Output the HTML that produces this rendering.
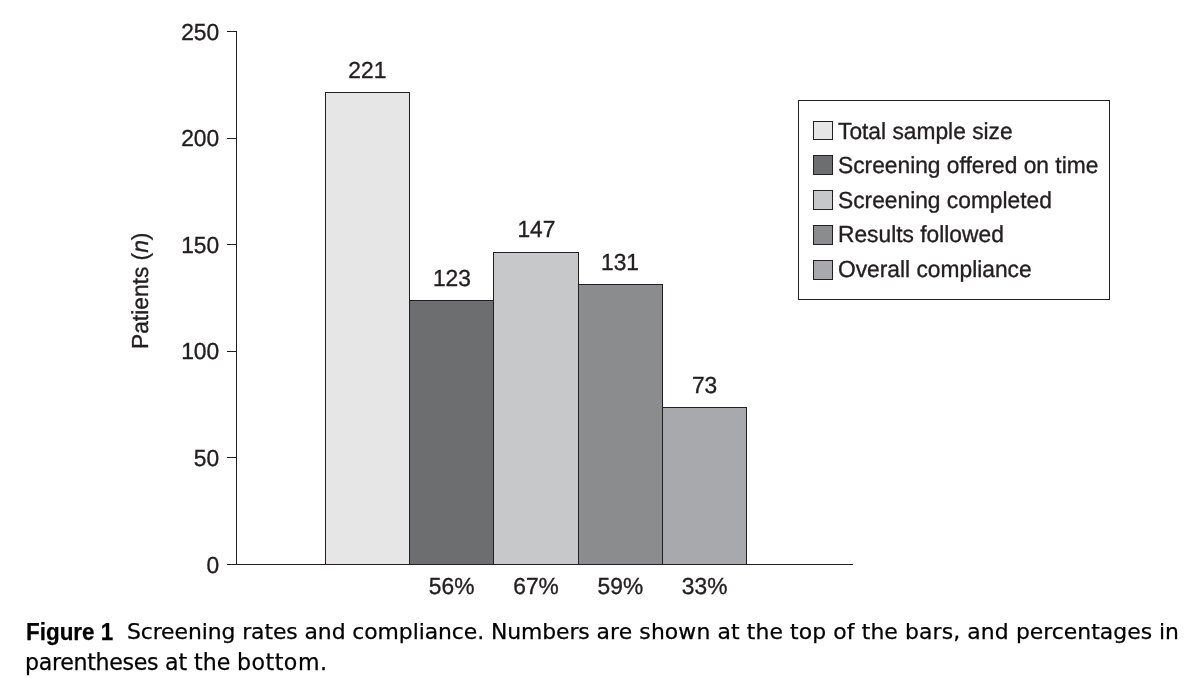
<!DOCTYPE html>
<html lang="en">
<head>
<meta charset="utf-8">
<title>Figure 1 Screening rates and compliance</title>
<style>
  html, body { margin: 0; padding: 0; background: #ffffff; }
  body { width: 1187px; height: 678px; overflow: hidden; position: relative; }
  svg { position: absolute; left: 0; top: 0; display: block; }
  svg text { text-rendering: geometricPrecision; font-family: "Liberation Sans", Arial, Helvetica, sans-serif; font-size: 23.2px; fill: #231f20; stroke: #231f20; stroke-width: 0.35; }
  .ax { stroke: #231f20; stroke-width: 1; fill: none; shape-rendering: crispEdges; }
  .bar { stroke: #231f20; stroke-width: 1; shape-rendering: crispEdges; }
  .cap { position: absolute; margin: 0; white-space: nowrap; color: #000000;
    font-family: "DejaVu Sans", "Liberation Sans", sans-serif; font-size: 21.9px; line-height: 30px; height: 30px; -webkit-text-stroke: 0.25px #000000; }
  #c0 { left: 26.2px; top: 616.6px; font-family: "Liberation Sans", "DejaVu Sans", sans-serif; font-weight: bold; font-size: 23.5px;
    transform-origin: 0 0; transform: scaleX(0.955); }
  #c1 { left: 126.9px; top: 617.3px; letter-spacing: 0.01px; }
  #c2 { left: 25px; top: 646.8px; font-size: 22.1px; letter-spacing: 0.04px; }
</style>
</head>
<body>
<svg width="1187" height="678" viewBox="0 0 1187 678">
  <rect x="0" y="0" width="1187" height="678" fill="#ffffff"/>

  <!-- bars -->
  <rect class="bar" x="325.5" y="92.5" width="84" height="472.0" fill="#e6e6e6"/>
  <rect class="bar" x="409.5" y="300.5" width="84" height="264.0" fill="#6d6e70"/>
  <rect class="bar" x="493.5" y="252.5" width="85" height="312.0" fill="#c7c8ca"/>
  <rect class="bar" x="578.5" y="284.5" width="84" height="280.0" fill="#8a8c8e"/>
  <rect class="bar" x="662.5" y="407.5" width="84" height="157.0" fill="#a7a9ac"/>

  <!-- axes -->
  <path class="ax" d="M236.5 31 V565"/>
  <path class="ax" d="M227 564.5 H853"/>
  <path class="ax" d="M227 31.5 H237 M227 138.5 H237 M227 244.5 H237 M227 351.5 H237 M227 457.5 H237"/>

  <!-- y tick labels -->
  <text transform="translate(219.2 39.6) scale(0.982 1)" text-anchor="end">250</text>
  <text transform="translate(219.2 146.2) scale(0.982 1)" text-anchor="end">200</text>
  <text transform="translate(219.2 252.8) scale(0.982 1)" text-anchor="end">150</text>
  <text transform="translate(219.2 359.4) scale(0.982 1)" text-anchor="end">100</text>
  <text transform="translate(219.2 466.0) scale(0.982 1)" text-anchor="end">50</text>
  <text transform="translate(219.2 572.6) scale(0.982 1)" text-anchor="end">0</text>

  <!-- y axis title -->
  <text transform="translate(148 349) rotate(-90) scale(0.982 1)">Patients (<tspan font-style="italic">n</tspan>)</text>

  <!-- bar value labels -->
  <text transform="translate(367.3 78.0) scale(0.982 1)" text-anchor="middle">221</text>
  <text transform="translate(451.9 285.6) scale(0.982 1)" text-anchor="middle">123</text>
  <text transform="translate(536.4 237.4) scale(0.982 1)" text-anchor="middle">147</text>
  <text transform="translate(620 269.6) scale(0.982 1)" text-anchor="middle">131</text>
  <text transform="translate(704.6 393.0) scale(0.982 1)" text-anchor="middle">73</text>
  <text transform="translate(451.6 594.3) scale(0.982 1)" text-anchor="middle">56%</text>
  <text transform="translate(536 594.3) scale(0.982 1)" text-anchor="middle">67%</text>
  <text transform="translate(620.4 594.3) scale(0.982 1)" text-anchor="middle">59%</text>
  <text transform="translate(704.6 594.3) scale(0.982 1)" text-anchor="middle">33%</text>

  <!-- legend -->
  <rect class="ax" x="798.5" y="100.5" width="311" height="199"/>
  <rect class="bar" x="813.5" y="121.5" width="19" height="18" fill="#e6e6e6"/>
  <rect class="bar" x="813.5" y="155.5" width="19" height="19" fill="#6d6e70"/>
  <rect class="bar" x="813.5" y="190.5" width="19" height="19" fill="#c7c8ca"/>
  <rect class="bar" x="813.5" y="225.5" width="19" height="19" fill="#8a8c8e"/>
  <rect class="bar" x="813.5" y="260.5" width="19" height="19" fill="#a7a9ac"/>
  <text transform="translate(838 138.5) scale(0.982 1)">Total sample size</text>
  <text transform="translate(838 173.1) scale(0.982 1)">Screening offered on time</text>
  <text transform="translate(838 207.7) scale(0.982 1)">Screening completed</text>
  <text transform="translate(838 242.4) scale(0.982 1)">Results followed</text>
  <text transform="translate(838 277.1) scale(0.982 1)">Overall compliance</text>
</svg>
<p class="cap" id="c0">Figure 1</p>
<p class="cap" id="c1"><span style="letter-spacing:-0.08px">Screening rates and compliance. Numbers </span><span style="letter-spacing:0.11px">are shown at the top of the bars, and </span>percentages in</p>
<p class="cap" id="c2"><span style="letter-spacing:-0.3px">parentheses</span><span style="word-spacing:-0.4px"> at the </span><span style="letter-spacing:0.5px">bottom.</span></p>
</body>
</html>
